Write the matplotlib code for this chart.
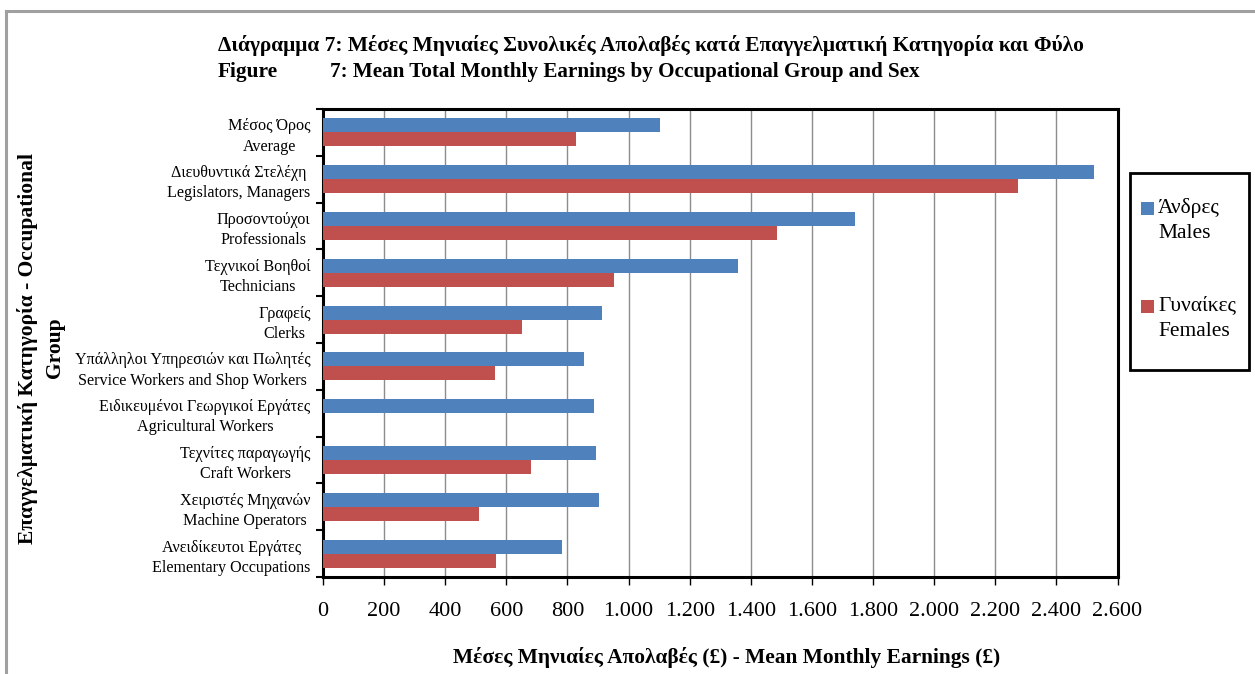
import matplotlib.pyplot as plt
from matplotlib.patches import Rectangle
from matplotlib.lines import Line2D
import numpy as np

plt.rcParams['font.family'] = ['Liberation Serif', 'DejaVu Serif']

categories = [
    "Μέσος Όρος\nAverage",
    "Διευθυντικά Στελέχη\nLegislators, Managers",
    "Προσοντούχοι\nProfessionals",
    "Τεχνικοί Βοηθοί\nTechnicians",
    "Γραφείς\nClerks",
    "Υπάλληλοι Υπηρεσιών και Πωλητές\nService Workers and Shop Workers",
    "Ειδικευμένοι Γεωργικοί Εργάτες\nAgricultural Workers",
    "Τεχνίτες παραγωγής\nCraft Workers",
    "Χειριστές Μηχανών\nMachine Operators",
    "Ανειδίκευτοι Εργάτες\nElementary Occupations",
]
males = [1103, 2522, 1742, 1358, 912, 855, 888, 895, 902, 783]
females = [827, 2273, 1487, 953, 650, 562, 0, 680, 510, 565]
xticks = list(range(0, 2601, 200))
xticklabels = ["{:,}".format(v).replace(",", ".") for v in xticks]

blue = "#4F81BD"
red = "#C0504D"

W, H = 1255, 674
fig = plt.figure(figsize=(W / 100, H / 100), dpi=100)

# outer chart border (left/top only visible in the crop)
fig.add_artist(Line2D([6 / W, 6 / W], [0, 1 - 11 / H], color="#A0A0A0", lw=2.2,
                      transform=fig.transFigure))
fig.add_artist(Line2D([6 / W, 1], [1 - 11 / H, 1 - 11 / H], color="#A0A0A0", lw=2.2,
                      transform=fig.transFigure))

left, right, top, bottom = 323, 1117.5, 109, 577
ax = fig.add_axes([left / W, 1 - bottom / H, (right - left) / W, (bottom - top) / H])

y = np.arange(len(categories))
h = 0.3
ax.barh(y - h / 2, males, height=h, color=blue, zorder=3)
ax.barh(y + h / 2, females, height=h, color=red, zorder=3)

ax.set_xlim(0, 2600)
ax.set_ylim(len(categories) - 0.5, -0.5)
ax.set_xticks(xticks)
ax.set_xticklabels(xticklabels, fontsize=16)
ax.xaxis.grid(True, color="#8C8C8C", lw=1, zorder=0)
ax.tick_params(axis="x", direction="out", length=6, width=1, pad=12)

ax.set_yticks(y)
ax.set_yticklabels(categories, fontsize=11.6, multialignment="center", linespacing=1.35)
ax.set_yticks(np.arange(len(categories) + 1) - 0.5, minor=True)
ax.tick_params(axis="y", which="major", length=0, pad=9)
ax.tick_params(axis="y", which="minor", direction="out", length=5, width=1.5)

for s in ax.spines.values():
    s.set_linewidth(2.2)
    s.set_color("black")

# titles
fig.text(218 / W, 1 - 45 / H, "Διάγραμμα 7: Μέσες Μηνιαίες Συνολικές Απολαβές κατά Επαγγελματική Κατηγορία και Φύλο",
         fontsize=15.4, fontweight="bold", va="center", ha="left")
fig.text(218 / W, 1 - 72 / H, "Figure", fontsize=15.4, fontweight="bold", va="center", ha="left")
fig.text(330 / W, 1 - 72 / H, "7: Mean Total Monthly Earnings by Occupational Group and Sex",
         fontsize=15.2, fontweight="bold", va="center", ha="left")

# axis titles
fig.text(727 / W, 1 - 657 / H, "Μέσες Μηνιαίες Απολαβές (£) - Mean Monthly Earnings (£)",
         fontsize=15.4, fontweight="bold", va="center", ha="center")
fig.text(41 / W, 1 - 348 / H, "Επαγγελματική Κατηγορία - Occupational\nGroup",
         fontsize=15.5, fontweight="bold", va="center", ha="center", rotation=90,
         multialignment="center", linespacing=1.45)

# legend box
fig.add_artist(Rectangle((1130 / W, 1 - 370 / H), 119 / W, 197 / H, transform=fig.transFigure,
                         facecolor="white", edgecolor="black", lw=2))
legend_items = [("Άνδρες", "Males", blue, 208), ("Γυναίκες", "Females", red, 306)]
for gr, en, col, yc in legend_items:
    fig.add_artist(Rectangle((1141 / W, 1 - (yc + 7) / H), 13 / W, 13 / H, transform=fig.transFigure,
                             facecolor=col, edgecolor="none"))
    fig.text(1158 / W, 1 - yc / H, gr, fontsize=15.5, va="center", ha="left")
    fig.text(1158 / W, 1 - (yc + 26) / H, en, fontsize=15.5, va="center", ha="left")

fig.savefig("out.png", dpi=100)
